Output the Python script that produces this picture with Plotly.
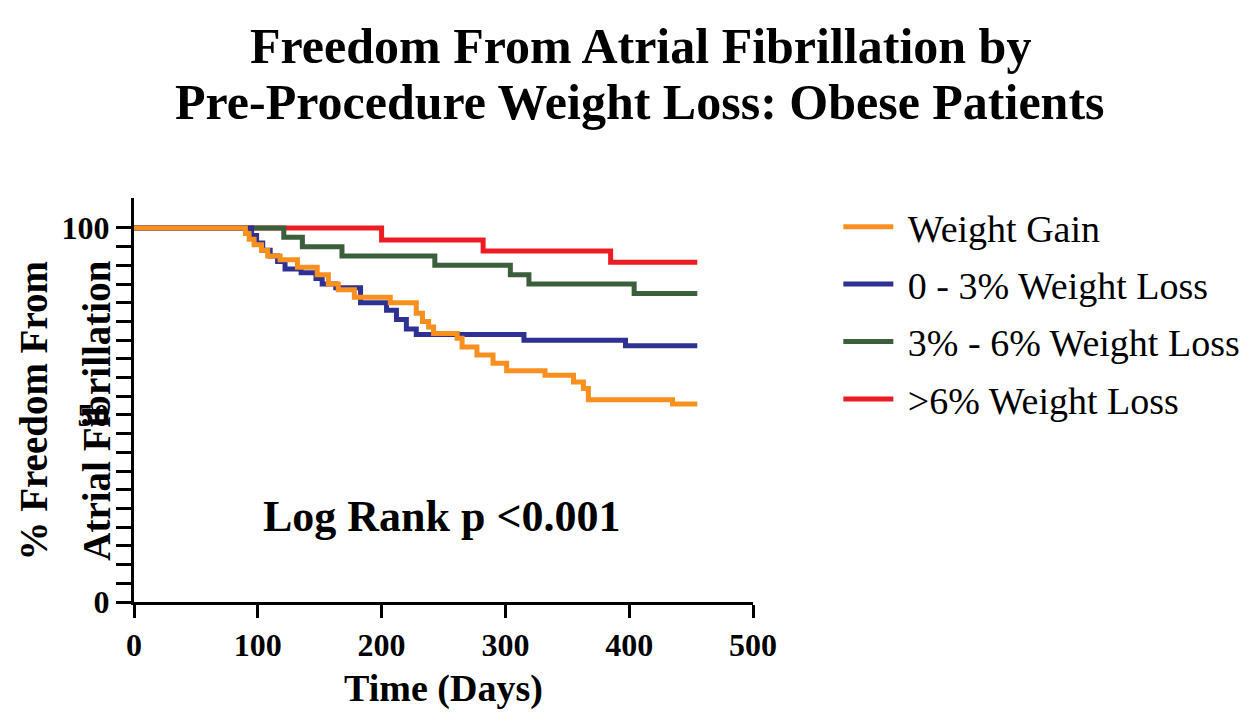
# %% IMPORTS
import plotly.graph_objects as go

# %% DATA
series_names = ["Weight Gain", "0 - 3% Weight Loss", "3% - 6% Weight Loss", ">6% Weight Loss"]

gain_days = [0, 90, 93, 97, 103, 108, 118, 132, 148, 157, 165, 178, 207, 228, 233, 238, 242, 261, 265, 277, 290, 301, 332, 355, 363, 367, 435, 455]
gain_pct = [100, 98.5, 97, 95.5, 94, 92.5, 91.5, 89.5, 87.5, 85, 83.5, 81.5, 80, 77.2, 75, 73.5, 71.8, 70.5, 68.2, 66, 63.8, 61.8, 60.6, 58.8, 57.1, 54.1, 52.9, 52.9]

loss03_days = [0, 95, 99, 104, 110, 116, 122, 135, 147, 152, 163, 183, 204, 212, 220, 228, 315, 397, 455]
loss03_pct = [100, 98, 96, 94, 92.5, 91, 89, 88, 86.5, 85, 84, 80, 78, 75.5, 73, 71.5, 70, 68.5, 68.5]

loss36_days = [0, 121, 136, 168, 243, 304, 319, 404, 455]
loss36_pct = [100, 97.5, 95, 92.5, 90, 87.5, 85, 82.5, 82.5]

loss6_days = [0, 200, 282, 385, 455]
loss6_pct = [100, 96.8, 93.8, 90.8, 90.8]

x_ticks = [0, 100, 200, 300, 400, 500]
y_ticks = [0, 50, 100]
y_minor_ticks = [5, 10, 15, 20, 25, 30, 35, 40, 45, 55, 60, 65, 70, 75, 80, 85, 90, 95]

colors = ["#F7901E", "#2E3192", "#3B5E3B", "#ED1C24"]
serif = "Liberation Serif, Times New Roman, serif"

# %% FIGURE
fig = go.Figure()

curves = [(gain_days, gain_pct), (loss03_days, loss03_pct), (loss36_days, loss36_pct), (loss6_days, loss6_pct)]
# draw red/green first so orange & blue sit on top, but keep legend order
draw_order = [3, 2, 1, 0]
for i in draw_order:
    days, pct = curves[i]
    fig.add_trace(go.Scatter(x = days, y = pct, mode = "lines", name = "\u00a0" + series_names[i],
                             line = dict(color = colors[i], width = 5, shape = "hv"),
                             legendgroup = str(i), legendrank = i + 1))

tick_font = dict(family = serif, size = 32, color = "black", weight = "bold")

fig.update_xaxes(range = [0, 500], tickvals = x_ticks, showline = True, linewidth = 3, linecolor = "black",
                 ticks = "outside", ticklen = 13, tickwidth = 3, tickcolor = "black", showgrid = False, zeroline = False,
                 tickfont = tick_font,
                 title = dict(text = "<b>Time (Days)</b>", font = dict(family = serif, size = 38, color = "black"), standoff = 12))

fig.update_yaxes(range = [0, 108], tickvals = y_ticks, showline = True, linewidth = 3, linecolor = "black",
                 ticks = "outside", ticklen = 15, tickwidth = 3, tickcolor = "black", showgrid = False, zeroline = False,
                 minor = dict(tickmode = "array", tickvals = y_minor_ticks, ticks = "outside", ticklen = 15, tickwidth = 3,
                              tickcolor = "black", showgrid = False),
                 tickfont = tick_font)

# y axis title, two rotated lines
ytitle_font = dict(family = serif, size = 39, color = "black")
fig.add_annotation(text = "<b>% Freedom From</b>", xref = "paper", yref = "paper", x = -0.163, y = 0.474,
                   xanchor = "center", yanchor = "middle", textangle = -90, showarrow = False, font = ytitle_font)
fig.add_annotation(text = "<b>Atrial Fibrillation</b>", xref = "paper", yref = "paper", x = -0.061, y = 0.474,
                   xanchor = "center", yanchor = "middle", textangle = -90, showarrow = False, font = ytitle_font)

fig.add_annotation(text = "<b>Log Rank p <0.001</b>", xref = "paper", yref = "paper",
                   x = 0.497, y = 0.211, xanchor = "center", yanchor = "middle", showarrow = False,
                   font = dict(family = serif, size = 44, color = "black"))

# two-line chart title
title_font = dict(family = serif, size = 50, color = "black")
fig.add_annotation(text = "<b>Freedom From Atrial Fibrillation by</b>", xref = "paper", yref = "paper",
                   x = 0.8175, y = 1.376, xanchor = "center", yanchor = "middle", showarrow = False, font = title_font)
fig.add_annotation(text = "<b>Pre-Procedure Weight Loss: Obese Patients</b>", xref = "paper", yref = "paper",
                   x = 0.8175, y = 1.238, xanchor = "center", yanchor = "middle", showarrow = False, font = title_font)

fig.update_layout(autosize = False, width = 1260, height = 724,
                  margin = dict(l = 126, r = 515, t = 190, b = 130),
                  paper_bgcolor = "white", plot_bgcolor = "white",
                  legend = dict(x = 0.659, y = 0.741, xref = "container", yref = "container", xanchor = "left", yanchor = "top",
                                font = dict(family = serif, size = 38, color = "black"), tracegroupgap = 5,
                                bgcolor = "rgba(0,0,0,0)", itemwidth = 50),
                  showlegend = True)

fig.write_html("out.html")
